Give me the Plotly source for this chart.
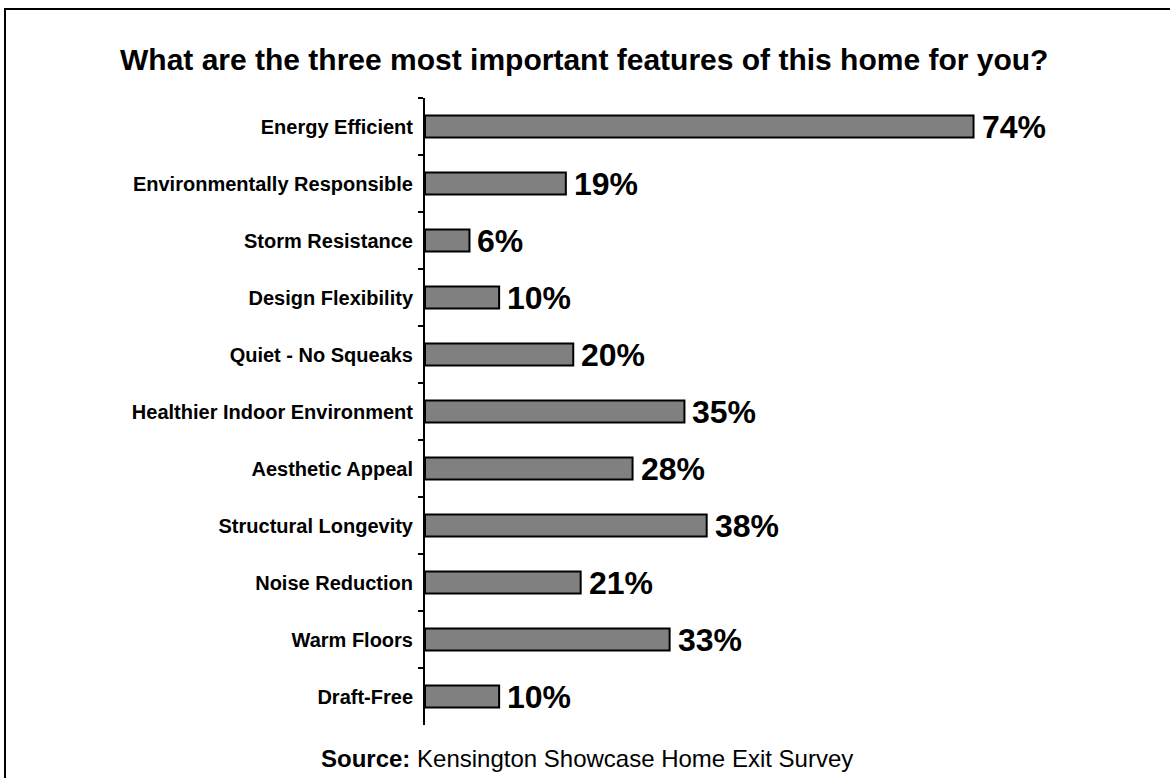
import plotly.graph_objects as go

# Survey responses: share of visitors naming each feature among their top three
features = [
    "Energy Efficient",
    "Environmentally Responsible",
    "Storm Resistance",
    "Design Flexibility",
    "Quiet - No Squeaks",
    "Healthier Indoor Environment",
    "Aesthetic Appeal",
    "Structural Longevity",
    "Noise Reduction",
    "Warm Floors",
    "Draft-Free",
]
percent = [74, 19, 6, 10, 20, 35, 28, 38, 21, 33, 10]

title_text = "What are the three most important features of this home for you?"
source_label = "Source:"
source_text = "Kensington Showcase Home Exit Survey"

W, H = 1170, 778
FONT = "Liberation Sans, Arial, sans-serif"

# plot area in pixels
x_left, x_right = 425, 1018
y_top, y_bottom = 98, 725

fig = go.Figure()
fig.add_trace(go.Bar(
    x=percent,
    y=features,
    orientation="h",
    marker=dict(color="#808080", line=dict(color="black", width=2)),
    hoverinfo="skip",
))

# value labels to the right of each bar
for f, v in zip(features, percent):
    fig.add_annotation(
        x=v, y=f, xref="x", yref="y",
        text=f"<b>{v}%</b>",
        showarrow=False, xanchor="left", yanchor="middle",
        xshift=6,
        font=dict(family=FONT, size=32, color="black"),
    )

# title and source line
fig.add_annotation(
    x=584 / W, y=1 - 59 / H, xref="paper", yref="paper",
    text=f"<b>{title_text}</b>", showarrow=False,
    xanchor="center", yanchor="middle",
    font=dict(family=FONT, size=30, color="black"),
)
fig.add_annotation(
    x=587 / W, y=1 - 758 / H, xref="paper", yref="paper",
    text=f"<b>{source_label}</b> {source_text}", showarrow=False,
    xanchor="center", yanchor="middle",
    font=dict(family=FONT, size=24, color="black"),
)

# frame around the chart
fig.add_shape(
    type="rect", xref="paper", yref="paper",
    x0=5 / W, y0=-0.05, x1=1.05, y1=1 - 9 / H,
    line=dict(color="black", width=2), fillcolor="rgba(0,0,0,0)",
)

fig.update_layout(
    width=W, height=H,
    margin=dict(l=0, r=0, t=0, b=0),
    paper_bgcolor="white", plot_bgcolor="white",
    showlegend=False,
    bargap=0.61,
    xaxis=dict(
        domain=[x_left / W, x_right / W],
        range=[0, 80],
        visible=False,
    ),
    yaxis=dict(
        domain=[1 - y_bottom / H, 1 - y_top / H],
        type="category",
        range=[len(features) - 0.5, -0.5],
        showline=True, linecolor="black", linewidth=2,
        ticks="outside", ticklen=5, tickwidth=2, tickcolor="black",
        tickson="boundaries",
        ticklabelstandoff=6,
        showgrid=False, zeroline=False,
        tickfont=dict(family=FONT, size=20, color="black", weight="bold"),
    ),
)

fig.write_html("out.html")
